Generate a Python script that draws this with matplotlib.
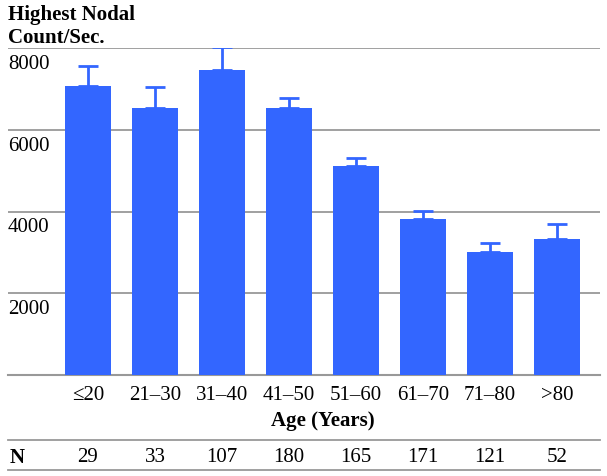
import numpy as np
import matplotlib
matplotlib.use('Agg')
import matplotlib.pyplot as plt
from matplotlib.transforms import blended_transform_factory
from matplotlib.lines import Line2D

plt.rcParams['font.family'] = ['Liberation Serif', 'DejaVu Serif']

# data
ages = ['\u226420', '21\u201330', '31\u201340', '41\u201350', '51\u201360', '61\u201370', '71\u201380', '>80']
counts = [7070, 6530, 7460, 6530, 5110, 3820, 3010, 3330]
err = [490, 515, 560, 250, 200, 195, 220, 365]
n_vals = [29, 33, 107, 180, 165, 171, 121, 52]
yticks = [2000, 4000, 6000, 8000]

blue = '#3366ff'
grey = '#999999'
fs = 15

W, H = 607, 476
fig = plt.figure(figsize=(W / 100, H / 100), dpi=100)
ax = fig.add_axes([8 / W, 101 / H, 592 / W, 327 / H])

x = np.arange(len(ages))
ax.bar(x, counts, width=0.69, color=blue, zorder=3)
ax.errorbar(x, counts, yerr=[np.zeros(len(err)), err], fmt='none',
            ecolor=blue, elinewidth=2, capsize=7, capthick=2, zorder=3)

ax.set_xlim(-1.194, 7.642)
ax.set_ylim(0, 8000)
for v in yticks:
    ax.axhline(v, color=grey, lw=1.3, zorder=1)
    ax.text(0, v - 400, str(v), transform=blended_transform_factory(ax.transAxes, ax.transData),
            ha='left', va='center', fontsize=fs)
ax.set_yticks([])
ax.set_xticks(x)
ax.set_xticklabels(ages, fontsize=fs)
ax.tick_params(axis='x', length=0, pad=8)
for s in ['top', 'left', 'right']:
    ax.spines[s].set_visible(False)
ax.spines['bottom'].set_color(grey)
ax.spines['bottom'].set_linewidth(1.5)

fig.text(8 / W, 1 - 5 / H, 'Highest Nodal\nCount/Sec.', ha='left', va='top',
         fontsize=fs, fontweight='bold', linespacing=1.2)

tr = blended_transform_factory(ax.transData, fig.transFigure)
ax.text(3.5, 1 - 421 / H, 'Age (Years)', transform=tr, ha='center', va='center',
        fontsize=fs, fontweight='bold')

# N table
for yy in [440, 470]:
    fig.add_artist(Line2D([8 / W, 600 / W], [1 - yy / H, 1 - yy / H], color=grey, lw=1.3))
fig.text(10 / W, 1 - 458 / H, 'N', ha='left', va='center', fontsize=fs, fontweight='bold')
for xi, n in zip(x, n_vals):
    ax.text(xi, 1 - 458 / H, str(n), transform=tr, ha='center', va='center', fontsize=fs)

fig.savefig('out.png', dpi=100)
